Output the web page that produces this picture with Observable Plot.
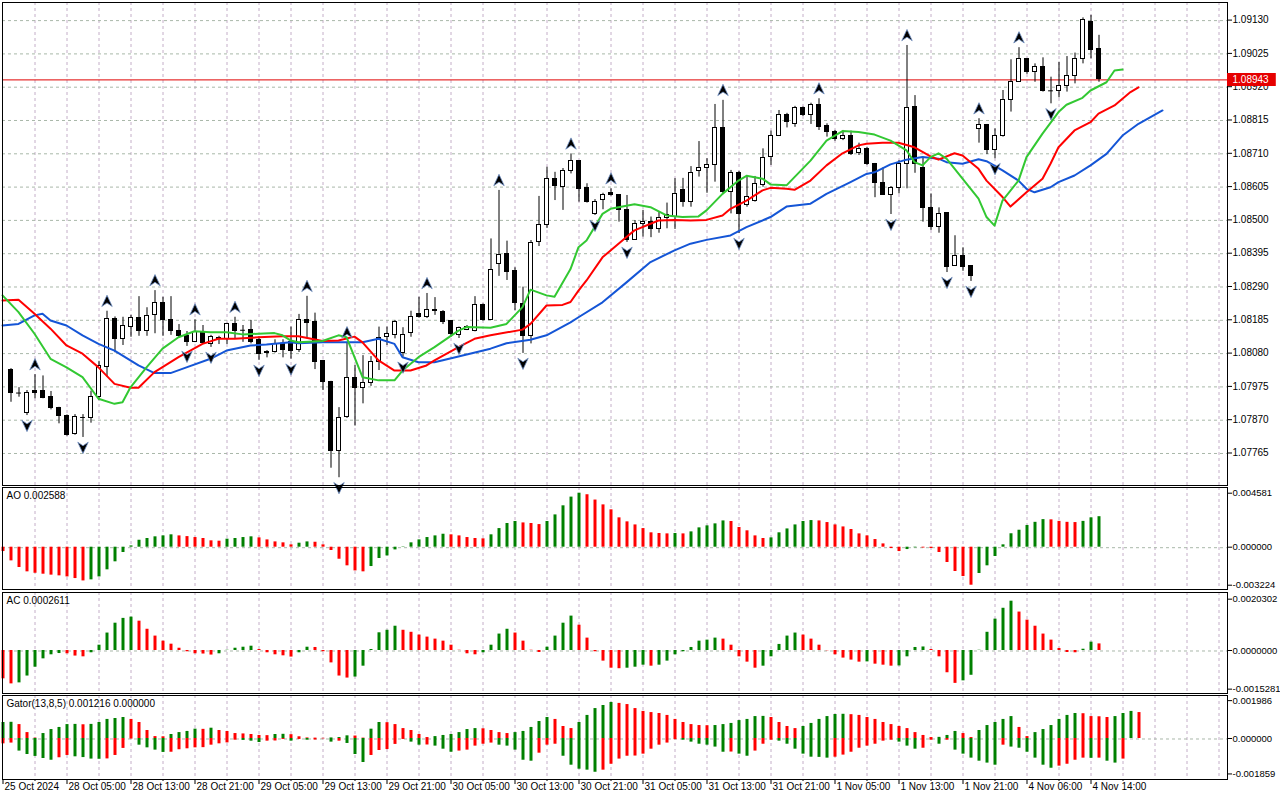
<!DOCTYPE html>
<html><head><meta charset="utf-8">
<script src="https://cdn.jsdelivr.net/npm/d3@7"></script>
<script src="https://cdn.jsdelivr.net/npm/@observablehq/plot@0.6"></script>
<style>
html,body{margin:0;padding:0;background:#fff;}
#chart{position:relative;width:1280px;height:800px;overflow:hidden;background:#fff;}
#chart svg{position:absolute;left:0;}
</style></head><body><div id="chart"></div>
<script>
// ---------- DATA ----------
const barStart = 1; // first candle bar index (bar 0 = 25 Oct 21:00)
const opens = [1.08028,1.07952,1.07890,1.07959,1.07959,1.07940,1.07906,1.07883,1.07824,1.07876,
1.07876,1.07943,1.08035,1.08188,1.08125,1.08162,1.08191,1.08149,1.08201,1.08239,
1.08185,1.08150,1.08135,1.08114,1.08145,1.08109,1.08129,1.08125,1.08172,1.08154,
1.08153,1.08120,1.08079,1.08083,1.08109,1.08114,1.08090,1.08183,1.08177,1.08054,
1.07988,1.07771,1.07878,1.08002,1.07969,1.07986,1.08051,1.08132,1.08136,1.08080,
1.08143,1.08202,1.08193,1.08212,1.08211,1.08181,1.08136,1.08154,1.08149,1.08232,
1.08185,1.08362,1.08393,1.08340,1.08235,1.08133,1.08430,1.08485,1.08630,1.08605,
1.08654,1.08685,1.08601,1.08519,1.08563,1.08584,1.08577,1.08530,1.08437,1.08486,
1.08493,1.08472,1.08507,1.08508,1.08593,1.08556,1.08653,1.08664,1.08674,1.08790,
1.08587,1.08649,1.08548,1.08561,1.08609,1.08698,1.08766,1.08832,1.08801,1.08853,
1.08832,1.08861,1.08795,1.08777,1.08756,1.08766,1.08710,1.08725,1.08675,1.08617,
1.08577,1.08601,1.08675,1.08855,1.08664,1.08538,1.08477,1.08521,1.08355,1.08386,
1.08355,1.08787,1.08798,1.08721,1.08764,1.08877,1.08936,1.09008,1.08966,1.08982,
1.08908,1.08905,1.08923,1.08955,1.09008,1.09123,1.09040];
const highs = [1.08031,1.07971,1.07962,1.08012,1.08008,1.07959,1.07909,1.07885,1.07886,1.07886,
1.07960,1.08054,1.08212,1.08194,1.08193,1.08199,1.08258,1.08223,1.08277,1.08256,
1.08258,1.08170,1.08148,1.08185,1.08167,1.08136,1.08133,1.08174,1.08193,1.08167,
1.08183,1.08132,1.08088,1.08122,1.08122,1.08162,1.08202,1.08259,1.08206,1.08057,
1.07991,1.07908,1.08113,1.08041,1.08072,1.08069,1.08162,1.08162,1.08183,1.08160,
1.08212,1.08256,1.08268,1.08255,1.08214,1.08183,1.08162,1.08167,1.08258,1.08235,
1.08440,1.08593,1.08433,1.08349,1.08288,1.08435,1.08574,1.08666,1.08650,1.08662,
1.08708,1.08687,1.08614,1.08564,1.08584,1.08598,1.08580,1.08577,1.08498,1.08530,
1.08509,1.08524,1.08553,1.08630,1.08631,1.08668,1.08747,1.08693,1.08864,1.08877,
1.08656,1.08653,1.08640,1.08637,1.08724,1.08780,1.08845,1.08836,1.08858,1.08856,
1.08868,1.08882,1.08803,1.08782,1.08782,1.08780,1.08742,1.08728,1.08678,1.08664,
1.08605,1.08687,1.09050,1.08892,1.08698,1.08582,1.08538,1.08523,1.08450,1.08412,
1.08356,1.08819,1.08801,1.08787,1.08908,1.09005,1.09043,1.09009,1.08992,1.09011,
1.08950,1.08997,1.09015,1.09026,1.09137,1.09145,1.09082];
const lows = [1.07925,1.07941,1.07883,1.07936,1.07936,1.07901,1.07857,1.07818,1.07821,1.07814,
1.07859,1.07930,1.08004,1.08081,1.08104,1.08130,1.08133,1.08133,1.08141,1.08133,
1.08136,1.08129,1.08101,1.08113,1.08110,1.08098,1.08107,1.08107,1.08125,1.08114,
1.08109,1.08057,1.08065,1.08080,1.08065,1.08061,1.08082,1.08125,1.08028,1.07962,
1.07717,1.07687,1.07874,1.07850,1.07920,1.07975,1.08025,1.08104,1.08125,1.08067,
1.08130,1.08190,1.08189,1.08199,1.08170,1.08130,1.08126,1.08151,1.08147,1.08181,
1.08183,1.08322,1.08309,1.08214,1.08079,1.08109,1.08416,1.08473,1.08561,1.08530,
1.08645,1.08556,1.08553,1.08514,1.08532,1.08575,1.08493,1.08429,1.08435,1.08446,
1.08444,1.08458,1.08472,1.08470,1.08540,1.08540,1.08635,1.08584,1.08619,1.08583,
1.08519,1.08457,1.08540,1.08556,1.08603,1.08672,1.08763,1.08790,1.08792,1.08826,
1.08801,1.08782,1.08761,1.08748,1.08750,1.08703,1.08703,1.08672,1.08570,1.08577,
1.08517,1.08582,1.08598,1.08647,1.08493,1.08467,1.08458,1.08334,1.08353,1.08338,
1.08306,1.08742,1.08706,1.08693,1.08761,1.08840,1.08934,1.08959,1.08934,1.08903,
1.08866,1.08885,1.08903,1.08929,1.08992,1.09008,1.08934];
const closes = [1.07954,1.07954,1.07955,1.07954,1.07938,1.07906,1.07882,1.07823,1.07877,1.07877,
1.07940,1.08038,1.08188,1.08125,1.08164,1.08191,1.08149,1.08198,1.08239,1.08183,
1.08149,1.08133,1.08114,1.08145,1.08112,1.08131,1.08124,1.08172,1.08151,1.08152,
1.08114,1.08078,1.08085,1.08109,1.08090,1.08088,1.08183,1.08174,1.08051,1.07988,
1.07771,1.07876,1.08002,1.07969,1.07986,1.08051,1.08128,1.08139,1.08177,1.08136,
1.08195,1.08193,1.08217,1.08217,1.08177,1.08139,1.08160,1.08162,1.08232,1.08185,
1.08343,1.08390,1.08335,1.08237,1.08133,1.08428,1.08485,1.08630,1.08606,1.08654,
1.08685,1.08598,1.08556,1.08558,1.08579,1.08577,1.08530,1.08437,1.08486,1.08493,
1.08472,1.08507,1.08514,1.08582,1.08556,1.08649,1.08663,1.08674,1.08790,1.08587,
1.08649,1.08519,1.08572,1.08612,1.08696,1.08766,1.08832,1.08808,1.08853,1.08832,
1.08861,1.08792,1.08777,1.08756,1.08766,1.08708,1.08724,1.08677,1.08616,1.08579,
1.08601,1.08675,1.08853,1.08677,1.08537,1.08477,1.08519,1.08353,1.08386,1.08353,
1.08322,1.08798,1.08719,1.08764,1.08877,1.08934,1.09008,1.08966,1.08982,1.08906,
1.08907,1.08923,1.08953,1.09008,1.09129,1.09036,1.08943];

const upFractals = [4,13,19,24,29,38,43,53,62,71,76,90,102,113,122,127];
const downFractals = [3,10,23,26,32,36,42,50,57,65,74,78,92,111,118,121,124,131];

// Alligator lines: [bar index, price]
const lips = [[0,1.08262],[2,1.08209],[4,1.08141],[6,1.08062],[8,1.08035],[10,1.08004],[12,1.07936],[14,1.07920],[15,1.07925],[16,1.07972],[18,1.08035],[20,1.08094],[22,1.08130],[24,1.08149],[26,1.08146],[28,1.08146],[30,1.08139],[32,1.08141],[34,1.08143],[35,1.08136],[36,1.08120],[37,1.08114],[40,1.08118],[42,1.08136],[43,1.08130],[44,1.08067],[45,1.08004],[47,1.07994],[49,1.07994],[50,1.08025],[52,1.08067],[54,1.08099],[57,1.08151],[58,1.08162],[61,1.08160],[63,1.08172],[65,1.08225],[66,1.08280],[68,1.08262],[69,1.08258],[71,1.08345],[72,1.08414],[73,1.08435],[75,1.08519],[76,1.08535],[79,1.08549],[81,1.08540],[83,1.08514],[85,1.08509],[87,1.08511],[88,1.08530],[90,1.08582],[92,1.08624],[93,1.08639],[95,1.08630],[96,1.08612],[98,1.08609],[99,1.08635],[101,1.08687],[103,1.08750],[105,1.08780],[107,1.08777],[109,1.08769],[111,1.08750],[113,1.08719],[114,1.08682],[115,1.08672],[116,1.08698],[117,1.08710],[118,1.08693],[120,1.08630],[122,1.08567],[123,1.08509],[124,1.08482],[125,1.08561],[127,1.08624],[128,1.08698],[130,1.08772],[132,1.08840],[133,1.08863],[135,1.08885],[136,1.08908],[138,1.08934],[139,1.08971],[140,1.08974]];
const teeth = [[0,1.08246],[2,1.08248],[4,1.08204],[6,1.08157],[8,1.08104],[10,1.08078],[12,1.08035],[14,1.07983],[16,1.07971],[17,1.07971],[19,1.08020],[22,1.08067],[25,1.08109],[27,1.08125],[29,1.08125],[32,1.08130],[35,1.08133],[37,1.08133],[40,1.08118],[42,1.08120],[44,1.08132],[45,1.08114],[47,1.08057],[49,1.08025],[51,1.08025],[53,1.08041],[54,1.08057],[57,1.08099],[59,1.08125],[61,1.08136],[65,1.08154],[66,1.08172],[68,1.08230],[70,1.08232],[71,1.08241],[72,1.08277],[73,1.08309],[75,1.08382],[78,1.08446],[79,1.08467],[82,1.08498],[84,1.08500],[86,1.08498],[88,1.08500],[90,1.08514],[91,1.08535],[93,1.08561],[95,1.08593],[96,1.08601],[98,1.08598],[99,1.08595],[101,1.08624],[103,1.08672],[105,1.08710],[107,1.08735],[108,1.08740],[110,1.08743],[112,1.08743],[114,1.08729],[116,1.08700],[117,1.08690],[119,1.08710],[120,1.08703],[122,1.08661],[123,1.08624],[125,1.08572],[126,1.08542],[128,1.08587],[130,1.08630],[131,1.08677],[132,1.08729],[134,1.08782],[136,1.08808],[137,1.08835],[139,1.08861],[141,1.08903],[142,1.08918]];
const jaw = [[0,1.08167],[2,1.08172],[4,1.08199],[5,1.08204],[6,1.08183],[8,1.08167],[10,1.08136],[12,1.08109],[14,1.08088],[17,1.08041],[19,1.08017],[21,1.08017],[23,1.08035],[26,1.08062],[28,1.08088],[31,1.08104],[33,1.08107],[36,1.08114],[37,1.08111],[40,1.08114],[45,1.08114],[47,1.08125],[49,1.08109],[50,1.08067],[52,1.08051],[54,1.08051],[57,1.08069],[61,1.08094],[63,1.08111],[66,1.08122],[68,1.08136],[71,1.08177],[72,1.08193],[75,1.08240],[78,1.08303],[81,1.08367],[84,1.08404],[86,1.08425],[88,1.08437],[91,1.08451],[93,1.08477],[96,1.08509],[98,1.08542],[101,1.08551],[103,1.08582],[106,1.08619],[108,1.08645],[109,1.08650],[111,1.08675],[113,1.08690],[115,1.08698],[117,1.08693],[118,1.08682],[120,1.08677],[122,1.08691],[123,1.08685],[125,1.08656],[127,1.08624],[128,1.08598],[129,1.08587],[131,1.08603],[132,1.08619],[134,1.08640],[136,1.08672],[138,1.08708],[140,1.08766],[142,1.08803],[145,1.08845]];

const lastPrice = 1.08943;
const priceTicks = [1.09130,1.09025,1.08920,1.08815,1.08710,1.08605,1.08500,1.08395,1.08290,1.08185,1.08080,1.07975,1.07870,1.07765];

// Awesome Oscillator, bars 0..137
const aoValues = [-0.00037,-0.00116,-0.00172,-0.00209,-0.00221,-0.00229,-0.00237,-0.00243,-0.00252,-0.00266,-0.00286,
-0.00277,-0.00252,-0.00192,-0.00124,-0.00045,0.00011,0.00059,0.00074,0.00088,0.00096,0.00105,
0.00096,0.00090,0.00082,0.00074,0.00054,0.00051,
0.00068,0.00074,0.00082,0.00088,
0.00079,0.00062,0.00045,0.00037,0.00020,
0.00034,0.00045,
0.00042,0.00020,-0.00028,-0.00102,-0.00158,-0.00201,-0.00209,
-0.00164,-0.00096,-0.00074,-0.00023,0.00003,0.00037,0.00062,0.00082,0.00096,0.00110,
0.00105,0.00096,0.00082,0.00074,0.00071,
0.00105,0.00158,0.00201,0.00218,
0.00206,0.00201,0.00192,
0.00218,0.00274,0.00351,0.00425,0.004581,
0.00445,0.00400,0.00359,0.00317,0.00249,0.00215,0.00189,0.00158,0.00122,0.00116,0.00113,
0.00116,0.00113,
0.00130,0.00164,0.00181,0.00198,0.00223,
0.00218,0.00167,0.00139,0.00096,0.00074,
0.00079,0.00122,0.00155,0.00189,0.00218,0.00226,
0.00223,0.00209,0.00189,0.00172,0.00150,0.00113,0.00096,0.00065,0.00028,-0.00011,-0.00037,
-0.00020,-0.00005,
-0.00007,-0.00011,-0.00045,-0.00130,-0.00206,-0.00249,-0.003224,
-0.00223,-0.00158,-0.00079,0.00020,0.00114,0.00144,0.00184,0.00211,0.00234,
0.00232,0.00219,0.00211,0.00209,
0.00219,0.00249,0.002588];

// Accelerator Oscillator, bars 0..137
const acValues = [-0.00112,-0.00132,-0.00128,-0.00101,-0.00066,-0.00033,-0.00017,-0.00012,-0.00013,-0.00022,
-0.00025,-0.00009,0.00021,0.00069,0.00108,0.00127,0.00132,0.00116,0.00084,0.00057,
0.00037,0.00025,0.00009,-0.00005,-0.00013,-0.00014,-0.00018,-0.00013,0.00001,0.00009,
0.00013,0.00017,0.00004,-0.00009,-0.00017,-0.00021,-0.00026,-0.00009,0.00013,0.00012,
-0.00005,-0.00049,-0.00101,-0.00109,-0.00105,-0.00062,0.00004,0.00070,0.00080,0.00096,
0.00080,0.00072,0.00061,0.00053,0.00045,0.00037,0.00021,0.00001,-0.00013,-0.00017,
-0.00009,0.00021,0.00065,0.00084,0.00069,0.00037,0.00001,-0.00008,0.00013,0.00057,
0.00108,0.00136,0.00100,0.00049,-0.00005,-0.00042,-0.00070,-0.00072,-0.00070,-0.00066,
-0.00058,-0.00062,-0.00058,-0.00042,-0.00017,-0.00005,0.00012,0.00037,0.00041,0.00049,
0.00045,0.00021,-0.00025,-0.00046,-0.00070,-0.00062,-0.00025,0.00024,0.00057,0.00069,
0.00061,0.00045,0.00021,-0.00001,-0.00017,-0.00030,-0.00038,-0.00046,-0.00045,-0.00054,
-0.00058,-0.00062,-0.00061,-0.00025,0.00012,0.00014,0.00004,-0.00025,-0.00088,-0.00130,
-0.00120,-0.00098,0.00001,0.00072,0.00124,0.00167,0.00195,0.00152,0.00120,0.00096,
0.00065,0.00041,0.00008,-0.00008,-0.00009,0.00005,0.00033,0.0002611];

// Gator oscillator: upper bars 0..142, lower bars (magnitude, drawn below zero) 0..140
const gatorUpper = [0.00084,0.00085,0.00073,0.00031,0.00002,0.00026,0.00047,0.00058,0.00073,0.00074,
0.00072,0.00074,0.00084,0.00100,0.00105,0.00110,0.00100,0.00084,0.00042,0.00010,
0.00009,0.00021,0.00031,0.00037,0.00049,0.00048,0.00054,0.00042,0.00037,0.00026,
0.00024,0.00021,0.00016,0.00015,0.00021,0.00022,0.00020,0.00009,0.00003,0.00002,
0.00001,0.00003,0.00005,0.00014,0.00013,0.00002,0.00049,0.00084,0.00083,0.00073,
0.00052,0.00042,0.00021,0.00005,0.00010,0.00016,0.00021,0.00031,0.00047,0.00052,
0.00051,0.00042,0.00031,0.00026,0.00031,0.00037,0.00058,0.00089,0.00110,0.00100,
0.00063,0.00052,0.00084,0.00121,0.00157,0.00173,0.00189,0.00184,0.00178,0.00157,
0.00142,0.00136,0.00131,0.00121,0.00100,0.00084,0.00073,0.00068,0.00067,0.00068,
0.00073,0.00079,0.00094,0.00100,0.00115,0.00116,0.00110,0.00084,0.00063,0.00052,
0.00063,0.00079,0.00100,0.00115,0.00126,0.00127,0.00125,0.00121,0.00110,0.00100,
0.00084,0.00073,0.00063,0.00052,0.00031,0.00016,0.00005,0.00006,0.00016,0.00037,
0.00026,0.00005,0.00042,0.00068,0.00084,0.00100,0.00115,0.00058,0.00010,0.00031,
0.00047,0.00068,0.00100,0.00121,0.00131,0.00130,0.00115,0.00114,0.00110,0.00115,
0.00131,0.00142,0.00136];
const gatorLower = [0.00028,0.00024,0.00066,0.00084,0.00094,0.00105,0.00114,0.00101,0.00089,0.00096,
0.00100,0.00108,0.00109,0.00107,0.00089,0.00052,0.00003,0.00035,0.00049,0.00061,
0.00073,0.00072,0.00059,0.00054,0.00049,0.00048,0.00035,0.00028,0.00023,0.00009,
0.00010,0.00014,0.00021,0.00014,0.00013,0.00005,0.00014,0.00005,0.00009,0.00008,
0.00002,0.00019,0.00014,0.00026,0.00084,0.00126,0.00089,0.00063,0.00058,0.00031,
0.00005,0.00019,0.00035,0.00034,0.00040,0.00056,0.00072,0.00066,0.00061,0.00040,
0.00030,0.00024,0.00035,0.00040,0.00061,0.00114,0.00119,0.00077,0.00035,0.00030,
0.00093,0.00140,0.00161,0.00166,0.00177,0.00166,0.00135,0.00108,0.00093,0.00092,
0.00082,0.00056,0.00035,0.00024,0.00006,0.00009,0.00019,0.00030,0.00035,0.00045,
0.00072,0.00071,0.00082,0.00093,0.00066,0.00030,0.00009,0.00014,0.00030,0.00056,
0.00082,0.00098,0.00099,0.00103,0.00098,0.00087,0.00072,0.00051,0.00040,0.00030,
0.00014,0.00009,0.00019,0.00040,0.00056,0.00051,0.00009,0.00030,0.00009,0.00061,
0.00082,0.00103,0.00119,0.00129,0.00140,0.00035,0.00045,0.00051,0.00072,0.00103,
0.00140,0.00156,0.00145,0.00135,0.00114,0.00103,0.00104,0.00103,0.00119,0.00129,
0.00108];

const timeLabels = ["25 Oct 2024","28 Oct 05:00","28 Oct 13:00","28 Oct 21:00","29 Oct 05:00","29 Oct 13:00","29 Oct 21:00","30 Oct 05:00","30 Oct 13:00","30 Oct 21:00","31 Oct 05:00","31 Oct 13:00","31 Oct 21:00","1 Nov 05:00","1 Nov 13:00","1 Nov 21:00","4 Nov 06:00","4 Nov 14:00"];
const barsPerLabel = 8;
const aoTitle = "AO 0.002588";
const acTitle = "AC 0.0002611";
const gatorTitle = "Gator(13,8,5) 0.001216 0.000000";

// ---------- BUILD ----------
const GREEN = "#008000", RED = "#ff0000";
const W = 1280, ML = 2, MR = 53, XMAX = 153.125; // 8 px per bar
const FONT = "'Liberation Sans', Arial, sans-serif";
const gridIdx = d3.range(4, 153, 4);
const labelIdx = timeLabels.map((_, k) => k * barsPerLabel);
const minorIdx = labelIdx.map(d => d + 4).filter(d => d < 141);
const VGRID = "#c4aec8", HGRID = "#a9b8a9";

const candles = opens.map((o, k) => ({i: k + barStart, o, h: highs[k], l: lows[k], c: closes[k]}));
const byIdx = new Map(candles.map(d => [d.i, d]));
const isDoji = d => Math.abs(d.o - d.c) < 0.00004;
const upF = upFractals.map(i => byIdx.get(i));
const dnF = downFractals.map(i => byIdx.get(i));

function colored(values, firstColor, sign = 1) {
  return values.map((v, i) => ({
    i, v: sign * v,
    color: i === 0 ? firstColor : (v > values[i - 1] ? GREEN : RED)
  }));
}
const aoData = colored(aoValues, RED);
const acData = colored(acValues, RED);
const gUp = colored(gatorUpper, GREEN);
const gDn = colored(gatorLower, RED, -1);

const upArrow = {draw(ctx, size) { const r = Math.sqrt(size / Math.PI);
  ctx.moveTo(0, -r * 1.1); ctx.lineTo(r * 0.95, r * 0.95); ctx.lineTo(0, r * 0.3); ctx.lineTo(-r * 0.95, r * 0.95); ctx.closePath(); }};
const downArrow = {draw(ctx, size) { const r = Math.sqrt(size / Math.PI);
  ctx.moveTo(0, r * 1.1); ctx.lineTo(r * 0.95, -r * 0.95); ctx.lineTo(0, -r * 0.3); ctx.lineTo(-r * 0.95, -r * 0.95); ctx.closePath(); }};

function panel(top, height, mt, mb, ydomain, marks) {
  const svg = Plot.plot({
    width: W, height, marginLeft: ML, marginRight: MR, marginTop: mt, marginBottom: mb,
    x: {domain: [0, XMAX], axis: null, label: null},
    y: {domain: ydomain, axis: null, label: null},
    color: {type: "identity"},
    style: {background: "transparent", fontFamily: FONT, fontSize: "10px", overflow: "visible"},
    marks
  });
  svg.style.top = top + "px";
  document.getElementById("chart").appendChild(svg);
}
const indAxis = (ticks, digits) => Plot.axisY({anchor: "right", ticks, label: null,
  tickFormat: d => d.toFixed(digits), tickSize: 4, tickPadding: 1, fontSize: 9.5});

// Main price panel
panel(0, 488, 2, 3, [1.076625, 1.091855], [
  Plot.ruleX(gridIdx, {x: d => d, stroke: VGRID, strokeDasharray: "3,3", dx: 0.5}),
  Plot.ruleY(priceTicks, {y: d => d, stroke: HGRID, strokeDasharray: "3,3", dy: 0.5}),
  Plot.ruleY([lastPrice], {y: d => d, stroke: "#e00000", dy: 0.5}),
  Plot.ruleX(candles, {x: "i", y1: "l", y2: "h", stroke: "black", dx: 0.5}),
  Plot.rect(candles.filter(d => !isDoji(d)), {x1: d => d.i - 0.25, x2: d => d.i + 0.25, y1: "o", y2: "c",
    fill: d => d.c >= d.o ? "white" : "black", stroke: "black", dx: 0.5, shapeRendering: "crispEdges"}),
  Plot.ruleY(candles.filter(isDoji), {y: "c", x1: d => d.i - 0.3, x2: d => d.i + 0.3, stroke: "black", dx: 0.5}),
  Plot.line(jaw, {x: d => d[0], y: d => d[1], stroke: "#1455d6", strokeWidth: 2}),
  Plot.line(teeth, {x: d => d[0], y: d => d[1], stroke: "#ff0000", strokeWidth: 2}),
  Plot.line(lips, {x: d => d[0], y: d => d[1], stroke: "#32c832", strokeWidth: 2}),
  Plot.dot(upF, {x: "i", y: "h", symbol: upArrow, r: 5.5, fill: "black", stroke: "#6f8fc4", strokeWidth: 0.8, dx: 0.5, dy: -10}),
  Plot.dot(dnF, {x: "i", y: "l", symbol: downArrow, r: 5.5, fill: "black", stroke: "#6f8fc4", strokeWidth: 0.8, dx: 0.5, dy: 10}),
  Plot.frame({stroke: "black", shapeRendering: "crispEdges"}),
  Plot.axisY({anchor: "right", ticks: priceTicks, label: null, tickFormat: d => d.toFixed(5), tickSize: 4, tickPadding: 1}),
  Plot.ruleY([lastPrice], {y: d => d, x1: XMAX, x2: XMAX + 6.1, stroke: "#e60000", strokeWidth: 13}),
  Plot.text([lastPrice], {x: XMAX, y: d => d, text: d => d.toFixed(5), fill: "white", textAnchor: "start", dx: 5})
]);

// AO panel
panel(484, 108, 3, 3, [-0.0035878, 0.0050636], [
  Plot.ruleX(gridIdx, {x: d => d, stroke: VGRID, strokeDasharray: "3,3", dx: 0.5}),
  Plot.ruleY([0], {stroke: HGRID, strokeDasharray: "3,3", dy: 0.5}),
  Plot.ruleX(aoData, {x: "i", y1: 0, y2: "v", stroke: "color", strokeWidth: 3, dx: 0.5}),
  Plot.frame({stroke: "black", shapeRendering: "crispEdges"}),
  Plot.text([aoTitle], {frameAnchor: "top-left", text: d => d, dx: 4, dy: 4, lineAnchor: "top", textAnchor: "start"}),
  indAxis([0.004581, 0, -0.003224], 6)
]);

// AC panel
panel(589, 107, 3, 3, [-0.0017003, 0.0022934], [
  Plot.ruleX(gridIdx, {x: d => d, stroke: VGRID, strokeDasharray: "3,3", dx: 0.5}),
  Plot.ruleY([0], {stroke: HGRID, strokeDasharray: "3,3", dy: 0.5}),
  Plot.ruleX(acData, {x: "i", y1: 0, y2: "v", stroke: "color", strokeWidth: 3, dx: 0.5}),
  Plot.frame({stroke: "black", shapeRendering: "crispEdges"}),
  Plot.text([acTitle], {frameAnchor: "top-left", text: d => d, dx: 4, dy: 4, lineAnchor: "top", textAnchor: "start"}),
  indAxis([0.0020302, 0, -0.0015281], 7)
]);

// Gator panel + time axis
panel(692, 108, 3, 21, [-0.00215, 0.0022548], [
  Plot.ruleX(gridIdx, {x: d => d, stroke: VGRID, strokeDasharray: "3,3", dx: 0.5}),
  Plot.ruleY([0], {stroke: HGRID, strokeDasharray: "3,3", dy: 0.5}),
  Plot.ruleX(gUp, {x: "i", y1: 0, y2: "v", stroke: "color", strokeWidth: 3, dx: 0.5}),
  Plot.ruleX(gDn, {x: "i", y1: 0, y2: "v", stroke: "color", strokeWidth: 3, dx: 0.5}),
  Plot.frame({stroke: "black", shapeRendering: "crispEdges"}),
  Plot.text([gatorTitle], {frameAnchor: "top-left", text: d => d, dx: 4, dy: 4, lineAnchor: "top", textAnchor: "start"}),
  indAxis([0.001986, 0, -0.001859], 6),
  Plot.axisX({anchor: "bottom", ticks: labelIdx, label: null, tickSize: 5, tickFormat: () => "", dx: 0.5}),
  Plot.axisX({anchor: "bottom", ticks: minorIdx, label: null, tickSize: 2, tickFormat: () => "", dx: 0.5}),
  Plot.axisX({anchor: "bottom", ticks: labelIdx, label: null, tickSize: 0, tickPadding: 3, textAnchor: "start", dx: 2,
    tickFormat: d => timeLabels[d / barsPerLabel]})
]);
</script></body></html>
